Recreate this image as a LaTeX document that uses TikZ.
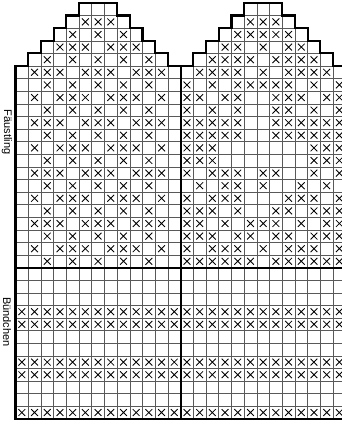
\documentclass[tikz,border=0pt]{standalone}
\usepackage{fontspec}
\setsansfont{Liberation Sans}
\begin{document}
\begin{tikzpicture}[x=1pt,y=-1pt,
  gridline/.style={draw=black!65,line width=0.55pt},
  outline/.style={line width=2.2pt,line join=miter},
  xmark/.style={line width=0.85pt,black},
  sidelabel/.style={font=\sffamily\fontsize{11}{13}\selectfont,rotate=-90,inner sep=0pt},
  xx/.pic={\draw[xmark] (-3.4,-3.4)--(3.4,3.4) (-3.4,3.4)--(3.4,-3.4);}]
\useasboundingbox (0,0) rectangle (341,425);
\def\W{12.7}\def\H{12.6}\def\X{15.5}\def\Y{3}
% grid cells
\foreach \k in {0,1} {
  \foreach \r/\a/\b in {1/6/8,2/5/9,3/4/10,4/3/11,5/2/12} {
    \foreach \c in {\a,...,\b} {
      \draw[gridline] ({\X+\k*165.1+(\c-1)*\W},{\Y+(\r-1)*\H}) rectangle +(\W,\H);
    }
  }
  \foreach \r in {6,...,33} {
    \foreach \c in {1,...,13} {
      \draw[gridline] ({\X+\k*165.1+(\c-1)*\W},{\Y+(\r-1)*\H}) rectangle +(\W,\H);
    }
  }
}
% left chart crosses
\foreach \r/\cl in {2/{6,7,8},3/{5,7,9},4/{4,5,6,8,9,10},5/{3,5,7,9,11},
  6/{2,3,4,6,7,8,10,11,12},7/{3,5,7,9,11},8/{2,4,5,6,8,9,10,12},9/{3,5,7,9,11},
  10/{2,3,4,6,7,8,10,11,12},11/{3,5,7,9,11},12/{2,4,5,6,8,9,10,12},13/{3,5,7,9,11},
  14/{2,3,4,6,7,8,10,11,12},15/{3,5,7,9,11},16/{2,4,5,6,8,9,10,12},17/{3,5,7,9,11},
  18/{2,3,4,6,7,8,10,11,12},19/{3,5,7,9,11},20/{2,4,5,6,8,9,10,12},21/{3,5,7,9,11}} {
  \foreach \c in \cl {
    \pic at ({\X+(\c-0.5)*\W},{\Y+(\r-0.5)*\H}) {xx};
  }
}
% right chart crosses
\foreach \r/\cl in {2/{6,7,8},3/{5,6,7,8,9},4/{4,5,7,9,10},5/{3,4,5,6,8,9,10,11},
  6/{2,3,4,5,7,9,10,11,12},7/{1,3,5,6,7,8,9,11,13},8/{1,2,4,5,8,9,10,12,13},
  9/{1,3,5,8,9,11,13},10/{1,2,3,4,5,8,9,10,11,12,13},11/{1,2,3,4,5,8,9,10,11,12,13},
  12/{1,2,3,11,12,13},13/{1,2,3,11,12,13},14/{1,3,4,5,7,8,11,13},15/{2,4,5,7,10,12},
  16/{1,3,4,5,9,10,11,13},17/{1,2,3,5,8,9,11,12,13},18/{1,2,4,6,7,8,10,12,13},
  19/{1,2,3,5,6,8,9,11,12,13},20/{1,3,4,5,7,9,10,11,13},21/{1,2,3,4,5,6,8,9,10,11,12,13}} {
  \foreach \c in \cl {
    \pic at ({\X+165.1+(\c-0.5)*\W},{\Y+(\r-0.5)*\H}) {xx};
  }
}
% cuff crosses
\foreach \k in {0,1} {
  \foreach \r in {25,26,29,30,33} {
    \foreach \c in {1,...,13} {
      \pic at ({\X+\k*165.1+(\c-0.5)*\W},{\Y+(\r-0.5)*\H}) {xx};
    }
  }
}
% thick outlines
\foreach \k in {0,1} {
  \begin{scope}[xshift={\k*165.1}]
    \draw[outline] (15.5,418.8) -- (15.5,66) -- (28.2,66) -- (28.2,53.4) -- (40.9,53.4)
      -- (40.9,40.8) -- (53.6,40.8) -- (53.6,28.2) -- (66.3,28.2) -- (66.3,15.6)
      -- (79.0,15.6) -- (79.0,3) -- (117.1,3) -- (117.1,15.6) -- (129.8,15.6)
      -- (129.8,28.2) -- (142.5,28.2) -- (142.5,40.8) -- (155.2,40.8) -- (155.2,53.4)
      -- (167.9,53.4) -- (167.9,66) -- (180.6,66) -- (180.6,418.8) -- cycle;
  \end{scope}
}
\draw[outline] (15.5,267.6) -- (345.7,267.6);
% labels
\node[sidelabel] (faust) at (7,132) {Fäustling};
\node[sidelabel] (bund) at (7,322) {Bündchen};
\end{tikzpicture}
\end{document}
